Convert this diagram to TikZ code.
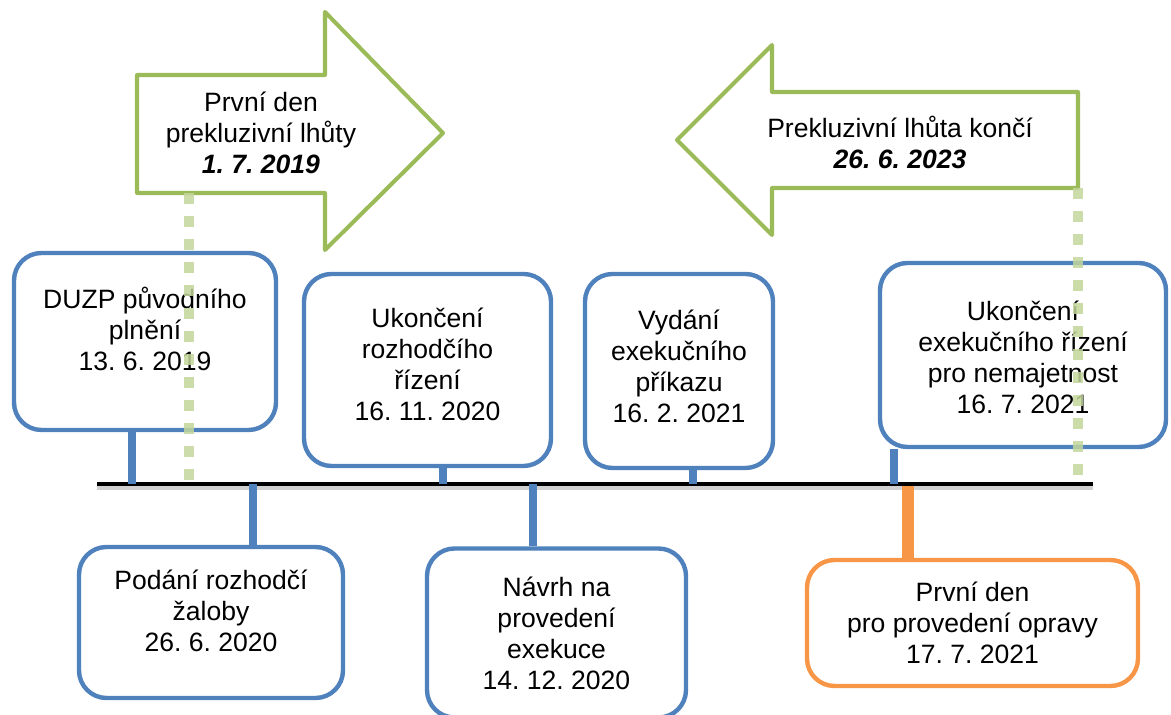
\documentclass[tikz,border=0pt]{standalone}
\usepackage{fontspec}
\setmainfont{Liberation Sans}
\usepackage{tikz}

\definecolor{evblue}{HTML}{4F81BD}
\definecolor{evgreen}{HTML}{9BBB59}
\definecolor{evlight}{HTML}{C3D69B}
\definecolor{evorange}{HTML}{F79646}

\begin{document}
\frenchspacing
\begin{tikzpicture}[line join=round]
      \tikzstyle{every node}=[font=\fontsize{15.1}{17.6}\selectfont, align=center]
      \tikzstyle{event}=[draw=evblue, line width=2.5pt, rounded corners=0.55cm, fill=white, inner sep=0pt]
      \tikzstyle{fix}=[event, draw=evorange]
      \tikzstyle{stem}=[evblue, line width=4.5pt]
      \tikzstyle{fixstem}=[evorange, line width=6.8pt]
      \tikzstyle{period}=[draw=evgreen, line width=2.3pt, fill=white]
      \tikzstyle{limit}=[evlight, line width=6.2pt, dash pattern=on 0.22cm off 0.24cm, opacity=0.85]
      \useasboundingbox (0,0) rectangle (23.42,14.3);
      % lhuta
      \draw [period] (2.74,12.80) -- (6.50,12.80) -- (6.50,14.06) -- (8.86,11.64) -- (6.50,9.30) -- (6.50,10.44) -- (2.74,10.44) -- cycle;
      \draw [period] (21.56,12.46) -- (15.44,12.46) -- (15.44,13.40) -- (13.54,11.50) -- (15.44,9.60) -- (15.44,10.54) -- (21.56,10.54) -- cycle;
      \node (start) at (5.22,11.64) {První den\\prekluzivní lhůty\\\textbf{\textit{1. 7. 2019}}};
      \node (end) at (18.0,11.46) {Prekluzivní lhůta končí\\\textbf{\textit{26. 6. 2023}}};
      % casova osa
      \coordinate (t1) at (2.64,4.62);
      \coordinate (t2) at (5.06,4.62);
      \coordinate (t3) at (8.86,4.62);
      \coordinate (t4) at (10.66,4.62);
      \coordinate (t5) at (13.86,4.62);
      \coordinate (t6) at (17.88,4.62);
      \coordinate (t7) at (18.16,4.58);
      \coordinate (ta) at (1.94,4.62);
      \coordinate (tb) at (21.86,4.62);
      \draw [black!30, opacity=0.6, line width=3pt] ([yshift=-2pt]ta) -- ([yshift=-2pt]tb);
      \draw [black, line width=2.8pt] (ta) -- (tb);
      % udalosti
      \node [event, minimum width=5.24cm, minimum height=3.54cm, label={[yshift=0.25cm]center:{DUZP původního\\plnění\\13. 6. 2019}}] (duzp) at (2.90,7.47) {};
      \node [event, minimum width=5.28cm, minimum height=3.02cm, label={[yshift=0.24cm]center:{Podání rozhodčí\\žaloby\\26. 6. 2020}}] (zaloba) at (4.22,1.85) {};
      \node [event, minimum width=4.94cm, minimum height=3.84cm, label={[yshift=0.12cm]center:{Ukončení\\rozhodčího\\řízení\\16. 11. 2020}}] (rozhodci) at (8.55,6.90) {};
      \node [event, minimum width=5.18cm, minimum height=3.38cm, label={center:{Návrh na\\provedení\\exekuce\\14. 12. 2020}}] (navrh) at (11.13,1.64) {};
      \node [event, minimum width=3.76cm, minimum height=3.88cm, label={[yshift=0.1cm]center:{Vydání\\exekučního\\příkazu\\16. 2. 2021}}] (prikaz) at (13.58,6.88) {};
      \node [event, minimum width=5.72cm, minimum height=3.68cm, label={[yshift=-0.04cm]center:{Ukončení\\exekučního řízení\\pro nemajetnost\\16. 7. 2021}}] (nemajetnost) at (20.46,7.20) {};
      \node [fix, minimum width=6.62cm, minimum height=2.52cm, label={center:{První den\\pro provedení opravy\\17. 7. 2021}}] (oprava) at (19.45,1.84) {};
      \draw [stem] (t1) -- (t1 |- duzp.south);
      \draw [stem] (t2) -- (t2 |- zaloba.north);
      \draw [stem] (t3) -- (t3 |- rozhodci.south);
      \draw [stem] (t4) -- (t4 |- navrh.north);
      \draw [stem] (t5) -- (t5 |- prikaz.south);
      \draw [stem] (t6) -- (t6 |- nemajetnost.south);
      \draw [fixstem] (t7) -- (t7 |- oprava.north);
      % zacatek a konec lhuty
      \coordinate (s1) at (3.78,10.44);
      \coordinate (s2) at (21.56,10.54);
      \draw [limit] (s1) -- (s1 |- ta);
      \draw [limit] (s2) -- (s2 |- ta);
\end{tikzpicture}
\end{document}
